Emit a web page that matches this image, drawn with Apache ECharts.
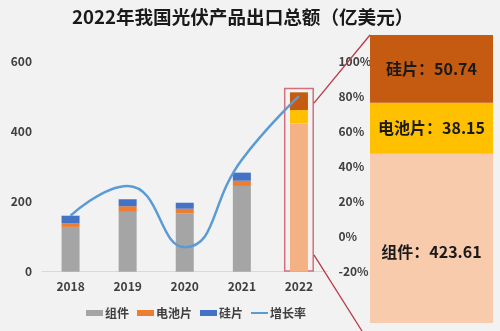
<!DOCTYPE html>
<html>
<head>
<meta charset="utf-8">
<script src="https://cdn.jsdelivr.net/npm/echarts@6/dist/echarts.min.js"></script>
<style>
html,body{margin:0;padding:0;background:#f2f2f2;}
#c{width:500px;height:331px;}
</style>
</head>
<body>
<div id="c"></div>
<script>
const years = ['2018', '2019', '2020', '2021', '2022'];
const modules = [128, 171, 167, 245, 423.61];
const cells = [10, 16, 13, 15, 38.15];
const wafers = [22, 20, 17, 23, 50.74];
const growth = [12, 29, -6, 44, 80.3];
const leftTicks = [0, 200, 400, 600];
const rightTicks = [-20, 0, 20, 40, 60, 80, 100];

const FONT = '"Noto Sans CJK SC", "Open Sans", sans-serif';
const TXT = '#404040';
const last = years.length - 1;
const total2022 = modules[last] + cells[last] + wafers[last];

function colored(arr, normal, special) {
  return arr.map((v, i) => i === last ? { value: v, itemStyle: { color: special } } : { value: v, itemStyle: { color: normal } });
}

const chart = echarts.init(document.getElementById('c'), null, { renderer: 'canvas' });
const option = {
  backgroundColor: '#f2f2f2',
  animation: false,
  textStyle: { fontFamily: FONT },
  title: {
    text: '2022年我国光伏产品出口总额（亿美元）',
    left: 67, top: 3,
    textStyle: { fontSize: 18.6, fontWeight: 'bold', color: '#1a1a1a', fontFamily: FONT }
  },
  legend: {
    data: [
      { name: '组件', icon: 'rect' },
      { name: '电池片', icon: 'rect' },
      { name: '硅片', icon: 'rect' },
      { name: '增长率', icon: 'path://M0,0 M0,2 L17,2 L17,4 L0,4 Z M17,6' }
    ],
    left: 81, top: 302,
    itemWidth: 17, itemHeight: 6, itemGap: 8,
    textStyle: { fontSize: 12, fontWeight: 'bold', color: TXT, fontFamily: FONT, padding: [0, 0, 0, -3] }
  },
  grid: [
    { left: 42, right: 172.5, top: 61.7, bottom: 59.3 },
    { left: 370, right: 7, top: 35, bottom: 8 }
  ],
  xAxis: [
    {
      type: 'category', gridIndex: 0, data: years,
      axisLine: { lineStyle: { color: '#d9d9d9' } },
      axisTick: { show: false },
      axisLabel: { color: TXT, fontSize: 12, fontWeight: 'bold', margin: 9, fontFamily: FONT }
    },
    { type: 'category', gridIndex: 0, data: years, show: false },
    { type: 'category', gridIndex: 1, data: ['2022'], show: false }
  ],
  yAxis: [
    {
      type: 'value', gridIndex: 0, min: leftTicks[0], max: leftTicks[leftTicks.length - 1], interval: 200,
      splitLine: { show: false }, axisLine: { show: false }, axisTick: { show: false },
      axisLabel: { color: TXT, fontSize: 12, fontWeight: 'bold', margin: 10, fontFamily: FONT }
    },
    {
      type: 'value', gridIndex: 0, position: 'right', min: rightTicks[0], max: rightTicks[rightTicks.length - 1], interval: 20,
      splitLine: { show: false }, axisLine: { show: false }, axisTick: { show: false },
      axisLabel: { color: TXT, fontSize: 12, fontWeight: 'bold', margin: 11, formatter: '{value}%', fontFamily: FONT }
    },
    {
      type: 'value', gridIndex: 1, min: 0, max: total2022, show: false,
      splitLine: { show: false },
      breaks: [{ start: 60, end: 357, gap: 0 }],
      breakArea: { show: false }
    }
  ],
  series: [
    {
      name: 'box', type: 'bar', xAxisIndex: 1, yAxisIndex: 0, barWidth: 30, z: 1,
      data: years.map((y, i) => i === last ? total2022 * 1.025 : null),
      itemStyle: { color: 'rgba(0,0,0,0)', borderColor: '#D2707C', borderWidth: 1.5 },
      silent: true
    },
    {
      name: '组件', type: 'bar', stack: 'a', barWidth: 18, z: 2,
      itemStyle: { color: '#A5A5A5' },
      data: colored(modules, '#A5A5A5', '#F4B183')
    },
    {
      name: '电池片', type: 'bar', stack: 'a', barWidth: 18, z: 2,
      itemStyle: { color: '#ED7D31' },
      data: colored(cells, '#ED7D31', '#FFC000')
    },
    {
      name: '硅片', type: 'bar', stack: 'a', barWidth: 18, z: 2,
      itemStyle: { color: '#4472C4' },
      data: colored(wafers, '#4472C4', '#C55A11')
    },
    {
      name: '增长率', type: 'line', yAxisIndex: 1, smooth: 0.5, symbol: 'none', z: 5,
      lineStyle: { color: '#5B9BD5', width: 2.5 },
      itemStyle: { color: '#5B9BD5' },
      data: growth.map((v, i) => i === last ? {
        value: v,
        label: { show: true, position: 'top', distance: 8, formatter: '{c}%', color: TXT, fontSize: 12, fontFamily: FONT }
      } : v)
    },
    {
      name: 'p组件', type: 'bar', xAxisIndex: 2, yAxisIndex: 2, stack: 'p', barWidth: '100%',
      itemStyle: { color: '#F8CBAD' },
      label: { show: true, position: 'inside', offset: [0, 14], formatter: '组件：' + modules[last].toFixed(2), fontSize: 16, fontWeight: 'bold', color: '#1a1a1a', fontFamily: FONT },
      data: [modules[last]]
    },
    {
      name: 'p电池片', type: 'bar', xAxisIndex: 2, yAxisIndex: 2, stack: 'p', barWidth: '100%',
      itemStyle: { color: '#FFC000' },
      label: { show: true, position: 'inside', formatter: '电池片：' + cells[last].toFixed(2), fontSize: 16, fontWeight: 'bold', color: '#1a1a1a', fontFamily: FONT },
      data: [cells[last]]
    },
    {
      name: 'p硅片', type: 'bar', xAxisIndex: 2, yAxisIndex: 2, stack: 'p', barWidth: '100%',
      itemStyle: { color: '#C55A11' },
      label: { show: true, position: 'inside', formatter: '硅片：' + wafers[last].toFixed(2), fontSize: 16, fontWeight: 'bold', color: '#1a1a1a', fontFamily: FONT },
      data: [wafers[last]]
    }
  ]
};
chart.setOption(option);

// connector lines from the highlight box to the callout panel
const boxRight = chart.convertToPixel({ xAxisIndex: 1 }, years[last]) + 15;
const yTop = chart.convertToPixel({ yAxisIndex: 0 }, total2022 * 0.94);
const yBot = chart.convertToPixel({ yAxisIndex: 0 }, 48);
chart.setOption({
  graphic: [
    { type: 'line', z: 10, shape: { x1: boxRight, y1: yTop, x2: 370, y2: 35 }, style: { stroke: '#B83A48', lineWidth: 1.3 } },
    { type: 'line', z: 10, shape: { x1: boxRight, y1: yBot, x2: 362, y2: 331 }, style: { stroke: '#B83A48', lineWidth: 1.3 } }
  ]
});
</script>
</body>
</html>
